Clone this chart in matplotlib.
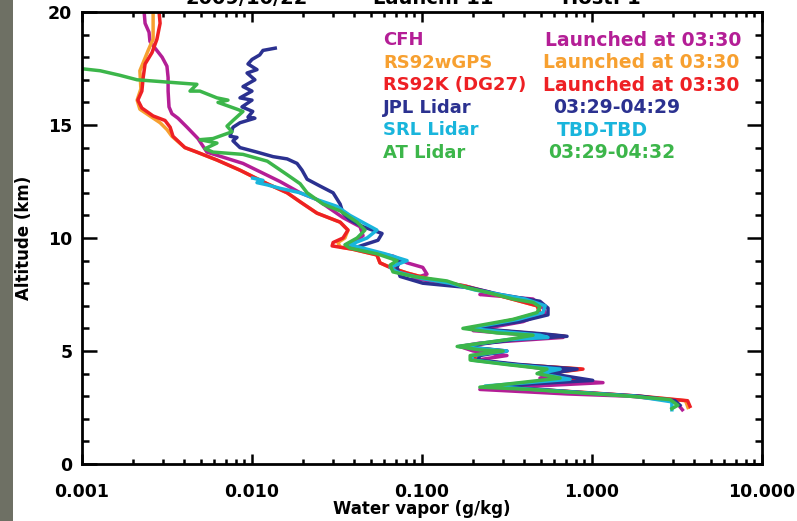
import matplotlib
matplotlib.use("Agg")
import matplotlib.pyplot as plt
from matplotlib.patches import Rectangle
from matplotlib.ticker import FixedLocator, LogLocator, MultipleLocator, NullFormatter

# water vapor profiles (g/kg) vs altitude (km)
cfh_alt = [20.0, 19.5, 19.1, 18.7, 18.4, 18.0, 17.6, 17.1, 16.5, 15.8, 15.5, 15.3, 14.9, 14.4,
           13.8, 13.3, 12.5, 12.0, 11.7, 10.9, 10.5, 10.1, 9.8, 9.6, 9.4, 9.2, 8.9, 8.7, 8.4,
           8.2, 8.05, 7.9, 7.6, 7.5, 7.3, 6.9, 6.7, 6.3, 5.9, 5.7, 5.6, 5.35, 5.2, 5.0, 4.8,
           4.6, 4.3, 4.1, 3.8, 3.6, 3.4, 3.3, 3.1, 3.0, 2.8, 2.4]
cfh_wv = [0.00232, 0.00235, 0.00248, 0.00251, 0.00269, 0.00296, 0.00316, 0.00321, 0.00321,
          0.00325, 0.00338, 0.00367, 0.00415, 0.00481, 0.00543, 0.00885, 0.0146, 0.0192,
          0.0241, 0.0343, 0.0432, 0.045, 0.0393, 0.0362, 0.0475, 0.0675, 0.0817, 0.101,
          0.107, 0.0885, 0.128, 0.174, 0.251, 0.219, 0.45, 0.515, 0.53, 0.393, 0.2, 0.432,
          0.675, 0.219, 0.167, 0.2, 0.316, 0.211, 0.432, 0.649, 0.494, 1.16, 0.343, 0.219,
          0.713, 1.67, 3.08, 3.4]

gps_alt = [20.0, 19.3, 18.8, 18.3, 17.4, 16.6, 16.1, 15.7, 15.4, 15.1, 14.8, 14.5, 14.0, 13.8,
           13.45, 13.0, 12.4, 12.0, 11.6, 11.1, 10.7, 10.35, 10.0, 9.8, 9.6, 9.5, 9.25, 8.9,
           8.7, 8.45, 8.1, 7.85, 7.6, 7.0, 6.7, 6.4, 6.0, 5.75, 5.65, 5.5, 5.2, 5.0, 4.8, 4.6,
           4.4, 4.2, 4.0, 3.75, 3.45, 3.3, 3.15, 3.0, 2.8, 2.5]
gps_wv = [0.00262, 0.00262, 0.00262, 0.00245, 0.00219, 0.00222, 0.00211, 0.00219, 0.00251,
          0.00288, 0.00316, 0.00338, 0.00403, 0.00474, 0.00622, 0.0085, 0.0123, 0.0161,
          0.0192, 0.0241, 0.033, 0.0367, 0.0352, 0.0320, 0.0330, 0.0393, 0.0543, 0.0566,
          0.0649, 0.0817, 0.122, 0.184, 0.241, 0.475, 0.494, 0.352, 0.192, 0.494, 0.68, 0.33,
          0.172, 0.30, 0.205, 0.205, 0.352, 0.86, 0.53, 0.83, 0.251, 0.462, 0.95, 1.85, 3.55, 3.67]

dg27_alt = [20.0, 19.5, 18.8, 18.2, 17.7, 17.1, 16.5, 16.1, 15.75, 15.4, 15.2, 14.9, 14.5, 14.0,
            13.8, 13.45, 13.0, 12.4, 12.0, 11.6, 11.1, 10.7, 10.35, 10.0, 9.8, 9.65, 9.5, 9.25,
            8.9, 8.7, 8.45, 8.1, 7.85, 7.6, 7.0, 6.7, 6.4, 6.0, 5.75, 5.65, 5.5, 5.2, 5.0, 4.8,
            4.6, 4.4, 4.2, 4.0, 3.75, 3.45, 3.3, 3.15, 3.0, 2.8, 2.55]
dg27_wv = [0.00284, 0.00288, 0.00276, 0.00258, 0.00235, 0.00229, 0.00225, 0.00213, 0.00225,
           0.00262, 0.00308, 0.0033, 0.00343, 0.00403, 0.00474, 0.00622, 0.0085, 0.0123,
           0.0161, 0.0192, 0.0241, 0.033, 0.0367, 0.0343, 0.030, 0.0296, 0.0393, 0.0543,
           0.0566, 0.0649, 0.0817, 0.122, 0.184, 0.241, 0.475, 0.494, 0.355, 0.192, 0.494,
           0.694, 0.33, 0.172, 0.30, 0.205, 0.205, 0.352, 0.885, 0.53, 0.85, 0.251, 0.462,
           0.973, 1.92, 3.65, 3.77]

jpl_alt = [18.4, 18.3, 18.1, 17.9, 17.7, 17.45, 17.3, 17.0, 16.7, 16.5, 16.2, 16.1, 15.8, 15.6,
           15.35, 15.3, 15.1, 14.9, 14.5, 14.45, 14.3, 14.0, 13.8, 13.6, 13.5, 13.3, 13.0, 12.6,
           12.3, 12.0, 11.5, 11.1, 10.8, 10.5, 10.2, 9.9, 9.6, 9.3, 9.0, 8.7, 8.3, 8.0, 7.8,
           7.5, 7.2, 6.9, 6.6, 6.3, 6.0, 5.75, 5.65, 5.5, 5.2, 5.0, 4.8, 4.6, 4.4, 4.2, 4.0,
           3.7, 3.45, 3.3, 3.15, 3.0, 2.8, 2.6]
jpl_wv = [0.0137, 0.0116, 0.0111, 0.0100, 0.00947, 0.0107, 0.00935, 0.0104, 0.00885, 0.0100,
          0.0085, 0.0100, 0.00873, 0.0101, 0.00947, 0.0104, 0.0085, 0.00773, 0.00743, 0.00816,
          0.00773, 0.0085, 0.0107, 0.0133, 0.0161, 0.0184, 0.0197, 0.0211, 0.0251, 0.030,
          0.033, 0.0343, 0.0377, 0.045, 0.0582, 0.0551, 0.0415, 0.0566, 0.0743, 0.0713,
          0.0743, 0.101, 0.192, 0.288, 0.494, 0.551, 0.551, 0.377, 0.205, 0.53, 0.713, 0.352,
          0.172, 0.316, 0.219, 0.213, 0.377, 0.817, 0.566, 1.01, 0.269, 0.494, 0.91, 1.92,
          3.08, 3.29]

srl_alt = [12.65, 12.55, 12.45, 12.35, 12.2, 12.0, 11.7, 11.4, 11.0, 10.35, 10.0, 9.7, 9.3, 9.0,
           8.7, 8.5, 8.2, 8.0, 7.7, 7.3, 7.0, 6.7, 6.4, 6.0, 5.7, 5.6, 5.5, 5.2, 5.0, 4.8, 4.6,
           4.4, 4.2, 4.0, 3.75, 3.45, 3.3, 3.15, 3.0, 2.75, 2.4]
srl_wv = [0.0101, 0.0116, 0.0107, 0.0123, 0.0146, 0.0192, 0.0241, 0.0316, 0.0377, 0.0543,
          0.0475, 0.0377, 0.0606, 0.0817, 0.0649, 0.0713, 0.101, 0.146, 0.205, 0.404, 0.53,
          0.515, 0.367, 0.187, 0.494, 0.551, 0.316, 0.165, 0.316, 0.197, 0.197, 0.33, 0.649,
          0.494, 0.743, 0.235, 0.45, 0.91, 1.79, 2.95, 2.95]

at_alt = [17.5, 17.4, 17.2, 17.0, 16.9, 16.8, 16.5, 16.5, 16.2, 16.1, 16.0, 15.7, 15.6, 15.2,
          14.95, 14.7, 14.4, 14.35, 14.2, 13.95, 13.8, 13.7, 13.4, 12.8, 12.4, 12.0, 11.5, 11.2,
          10.7, 10.35, 10.0, 9.7, 9.55, 9.3, 9.0, 8.8, 8.5, 8.3, 8.1, 7.8, 7.6, 7.3, 7.15,
          6.95, 6.7, 6.4, 6.0, 5.8, 5.7, 5.5, 5.2, 5.05, 5.0, 4.8, 4.6, 4.4, 4.2, 4.0, 3.8,
          3.4, 3.3, 3.15, 3.0, 2.85, 2.6, 2.45]
at_wv = [0.00097, 0.00128, 0.00167, 0.00211, 0.00316, 0.00474, 0.00432, 0.00494, 0.00622,
         0.00722, 0.00631, 0.00816, 0.00885, 0.00773, 0.00713, 0.00763, 0.0059, 0.00494,
         0.00622, 0.00529, 0.0059, 0.00885, 0.0123, 0.0161, 0.0192, 0.0211, 0.0262, 0.033,
         0.0415, 0.0462, 0.0415, 0.0352, 0.0377, 0.0543, 0.0713, 0.0649, 0.0675, 0.0885,
         0.140, 0.184, 0.241, 0.343, 0.45, 0.494, 0.475, 0.343, 0.174, 0.276, 0.45, 0.316,
         0.161, 0.219, 0.30, 0.192, 0.192, 0.316, 0.543, 0.475, 0.649, 0.219, 0.432, 0.85,
         1.67, 2.88, 3.2, 2.95]

names = ["CFH", "RS92wGPS", "RS92K (DG27)", "JPL Lidar", "SRL Lidar", "AT Lidar"]
times = ["Launched at 03:30", "Launched at 03:30", "Launched at 03:30",
         "03:29-04:29", "TBD-TBD", "03:29-04:32"]
colors = ["#b41e96", "#f7a030", "#ee2024", "#2b3190", "#19b5dc", "#3cb64a"]
time_x = [545, 543, 543, 553, 557, 548]  # left edge of the second legend column, px

xticks = [0.001, 0.01, 0.1, 1.0, 10.0]
xticklabels = ["0.001", "0.010", "0.100", "1.000", "10.000"]
yticks = [0, 5, 10, 15, 20]

profiles = [(cfh_wv, cfh_alt), (gps_wv, gps_alt), (dg27_wv, dg27_alt),
            (jpl_wv, jpl_alt), (srl_wv, srl_alt), (at_wv, at_alt)]

fig = plt.figure(figsize=(7.97, 5.21), dpi=100)
# grey strip on the left edge of the slide
fig.patches.append(Rectangle((0, 0), 13 / 797, 1, transform=fig.transFigure,
                             facecolor="#6e7064", edgecolor="none"))
ax = fig.add_axes([82 / 797, 57 / 521, 680 / 797, 452 / 521])

for (wv, alt), c in zip(profiles, colors):
    ax.plot(wv, alt, color=c, lw=2.5, solid_joinstyle="round")

ax.set_xscale("log")
ax.set_xlim(0.001, 10)
ax.set_ylim(0, 20)
ax.xaxis.set_major_locator(FixedLocator(xticks))
ax.set_xticklabels(xticklabels)
ax.xaxis.set_minor_locator(LogLocator(base=10, subs=range(2, 10)))
ax.xaxis.set_minor_formatter(NullFormatter())
ax.set_yticks(yticks)
ax.yaxis.set_minor_locator(MultipleLocator(1))

for s in ax.spines.values():
    s.set_linewidth(2)
ax.tick_params(which="both", direction="in", top=True, right=True, width=1.8,
               labelsize=12.5)
ax.tick_params(axis="x", which="major", length=7, pad=14)
ax.tick_params(axis="x", which="minor", length=3.5)
ax.tick_params(axis="y", which="major", length=11, pad=7)
ax.tick_params(axis="y", which="minor", length=5)
for lab in ax.get_xticklabels() + ax.get_yticklabels():
    lab.set_fontweight("bold")

ax.set_xlabel("Water vapor (g/kg)", fontsize=12, fontweight="bold", labelpad=-1)
ax.set_ylabel("Altitude (km)", fontsize=12, fontweight="bold", labelpad=11)

# legend as coloured text, two columns
for i, (n, t, c, tx) in enumerate(zip(names, times, colors, time_x)):
    y = 1 - (40 + 22.6 * i) / 521
    fig.text(383 / 797, y, n, color=c, fontsize=13, fontweight="bold", va="center")
    fig.text(tx / 797, y, t, color=c, fontsize=13.5, fontweight="bold", va="center")

# title, mostly cut off by the top of the image
for x, s in [(247, "2009/10/22"), (433, "Launch: 11"), (601, "Host: 1")]:
    fig.text(x / 797, 1 - 3.5 / 521, s, fontsize=14, fontweight="bold", ha="center",
             va="baseline")

fig.savefig("out.png", dpi=100)
